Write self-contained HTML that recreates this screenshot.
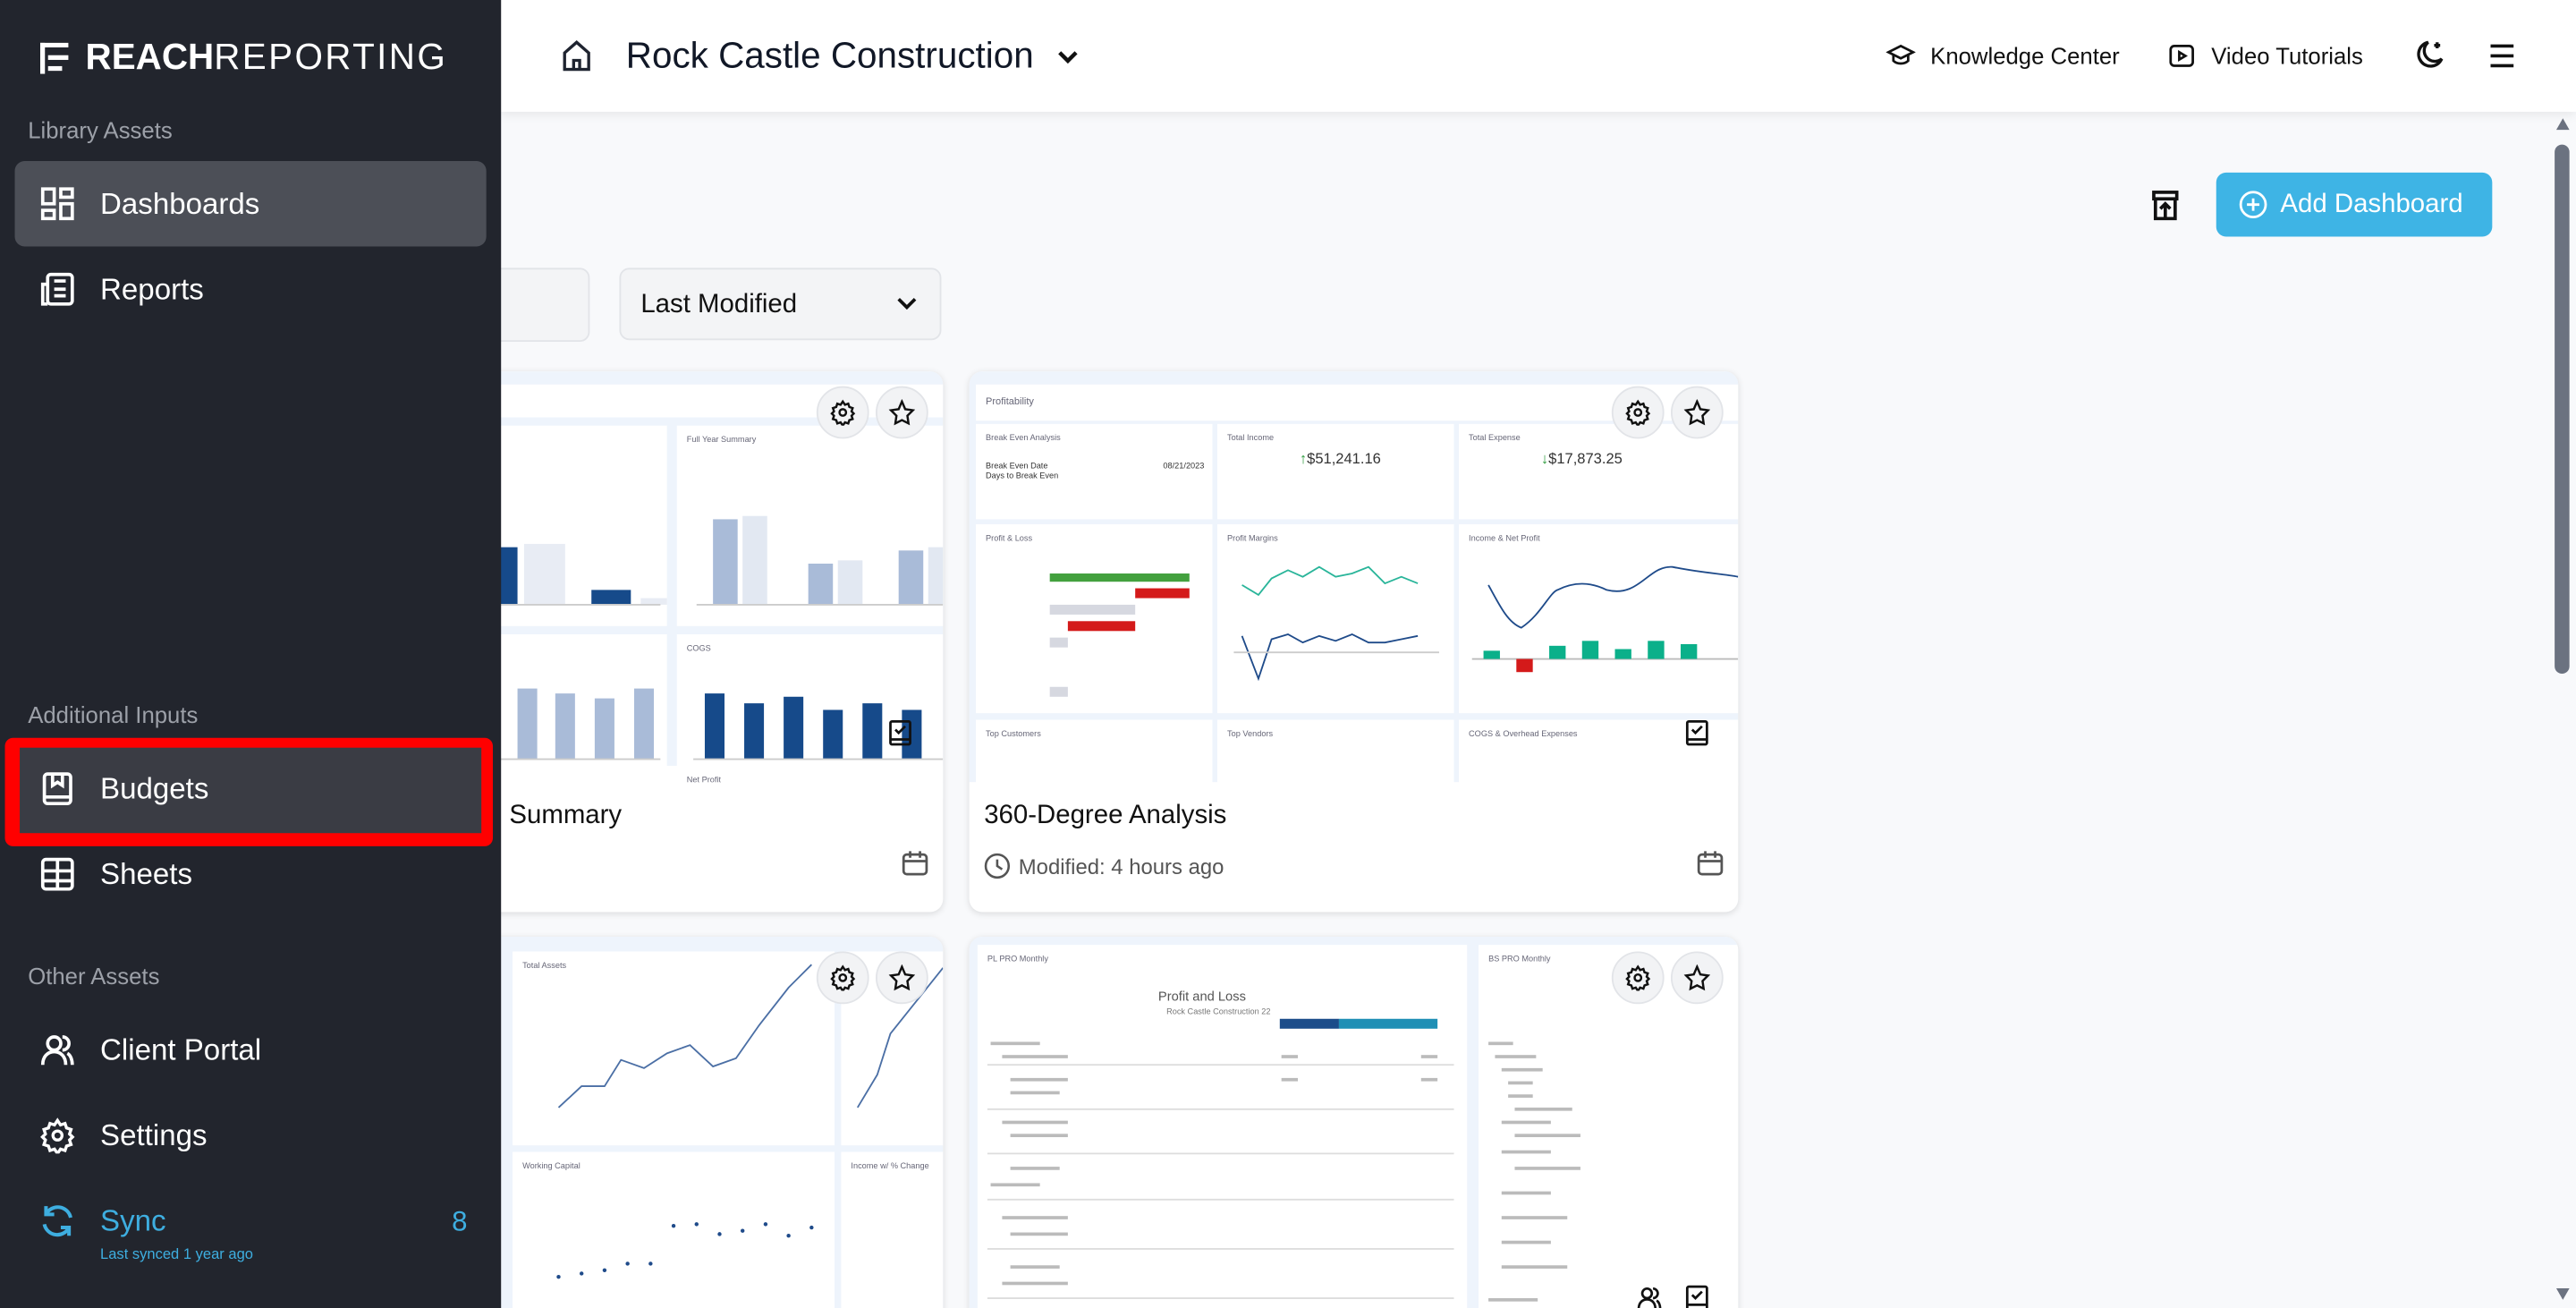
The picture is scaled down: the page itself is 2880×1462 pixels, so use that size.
<!DOCTYPE html>
<html><head><meta charset="utf-8"><style>
*{box-sizing:border-box;margin:0;padding:0}
html,body{width:2880px;height:1462px;overflow:hidden;background:#f8f9fb;font-family:"Liberation Sans",sans-serif}
#s{position:absolute;left:0;top:0;width:1568px;height:796px;overflow:hidden;transform:scale(1.836735);transform-origin:0 0;background:#f8f9fb}
.a{position:absolute}
.side{left:0;top:0;width:305px;height:796px;background:#22252d;z-index:5}
.sec{color:#9ca0a8;font-size:14px}
.item{color:#fff;font-size:18px;left:61px}
.ic{left:24px;width:22px;height:22px}
.card{background:#fff;border-radius:8px;box-shadow:0 1px 4px rgba(0,0,0,.12);overflow:hidden}
.pv{background:#eef4fc}
.pn{background:#fff}
.pt{font-size:5px;color:#667;position:absolute;left:6px;top:6px}
.btn{width:32px;height:32px;border-radius:50%;background:#f2f3f5;border:1px solid #e2e4e8}
.t{font-size:7px;color:#888}
</style></head><body><div id="s">

<!-- topbar -->
<div class="a" style="left:305px;top:0;width:1263px;height:68px;background:#fff;box-shadow:0 2px 6px rgba(0,0,0,.08);z-index:3"></div>
<svg class="a" style="left:340px;top:23px;z-index:4" width="22" height="22" viewBox="0 0 24 24" fill="none" stroke="#1f2430" stroke-width="2"><path d="M4 10l8-7 8 7v11H4z"/><path d="M10 21v-6h4v6"/></svg>
<div class="a" style="left:381px;top:21px;font-size:22px;color:#111827;z-index:4">Rock Castle Construction</div>
<svg class="a" style="left:642px;top:27px;z-index:4" width="16" height="16" viewBox="0 0 16 16" fill="none" stroke="#111" stroke-width="2.4"><path d="M3 5l5 5 5-5"/></svg>
<svg class="a" style="left:1148px;top:25px;z-index:4" width="18" height="18" viewBox="0 0 24 24" fill="none" stroke="#111" stroke-width="2"><path d="M2 9l10-5 10 5-10 5z"/><path d="M6 11v5c3 3 9 3 12 0v-5"/></svg>
<div class="a" style="left:1175px;top:26px;font-size:14px;color:#111;z-index:4">Knowledge Center</div>
<svg class="a" style="left:1319px;top:25px;z-index:4" width="18" height="18" viewBox="0 0 24 24" fill="none" stroke="#111" stroke-width="2"><rect x="3" y="4" width="18" height="16" rx="3"/><path d="M10 9l5 3-5 3z"/></svg>
<div class="a" style="left:1346px;top:26px;font-size:14px;color:#111;z-index:4">Video Tutorials</div>
<svg class="a" style="left:1467px;top:23px;z-index:4" width="22" height="22" viewBox="0 0 24 24" fill="none" stroke="#111" stroke-width="2"><path d="M12 3a8 8 0 1 0 9 11A7 7 0 0 1 12 3z"/><path d="M18 3v4M16 5h4"/></svg>
<svg class="a" style="left:1514px;top:25px;z-index:4" width="18" height="18" viewBox="0 0 18 18" stroke="#111" stroke-width="2"><path d="M2 3h14M2 9h14M2 15h14"/></svg>

<!-- scrollbar -->
<div class="a" style="left:1552px;top:68px;width:16px;height:728px;background:#f8f9fb;z-index:2"></div>
<div class="a" style="left:1556px;top:72px;width:0;height:0;border-left:4px solid transparent;border-right:4px solid transparent;border-bottom:7px solid #6b7280;z-index:2"></div>
<div class="a" style="left:1555px;top:88px;width:9px;height:322px;background:#6b7280;border-radius:5px;z-index:2"></div>
<div class="a" style="left:1556px;top:784px;width:0;height:0;border-left:4px solid transparent;border-right:4px solid transparent;border-top:7px solid #6b7280;z-index:2"></div>

<!-- toolbar -->
<svg class="a" style="left:1309px;top:115px" width="18" height="20" viewBox="0 0 18 20" fill="none" stroke="#111" stroke-width="2"><rect x="2" y="2" width="14" height="4"/><path d="M3 6v12h12V6M9 17v-8M6 12l3-3 3 3"/></svg>
<div class="a" style="left:1349px;top:105px;width:168px;height:39px;background:#3eb4e5;border-radius:6px"></div>
<svg class="a" style="left:1362px;top:115px" width="19" height="19" viewBox="0 0 20 20" fill="none" stroke="#fff" stroke-width="1.6"><circle cx="10" cy="10" r="8"/><path d="M10 6v8M6 10h8"/></svg>
<div class="a" style="left:1388px;top:116px;font-size:16px;color:#fff">Add Dashboard</div>
<div class="a" style="left:290px;top:163px;width:69px;height:45px;background:#f3f4f6;border:1px solid #e2e4e8;border-radius:6px"></div>
<div class="a" style="left:377px;top:163px;width:196px;height:44px;background:#f3f4f6;border:1px solid #e2e4e8;border-radius:6px"></div>
<div class="a" style="left:390px;top:177px;font-size:16px;color:#111">Last Modified</div>
<svg class="a" style="left:545px;top:178px" width="14" height="14" viewBox="0 0 14 14" fill="none" stroke="#111" stroke-width="2"><path d="M2 4l5 5 5-5"/></svg>

<!-- card 1 -->
<div class="a card" style="left:290px;top:226px;width:284px;height:329px">
 <div class="a pv" style="left:0;top:0;width:284px;height:250px"></div>
 <div class="a pn" style="left:0;top:8px;width:284px;height:20px"></div>
 <div class="a pn" style="left:0;top:33px;width:116px;height:122px"><svg width="116" height="122"><rect x="0" y="74" width="25" height="35" fill="#164a8a"/><rect x="29" y="72" width="25" height="37" fill="#e8ecf4"/><rect x="70" y="100" width="24" height="9" fill="#164a8a"/><rect x="100" y="105" width="24" height="4" fill="#e8ecf4"/><line x1="0" y1="109" x2="112" y2="109" stroke="#ccc"/></svg></div>
 <div class="a pn" style="left:122px;top:33px;width:162px;height:122px"><div class="pt">Full Year Summary</div><svg width="162" height="122"><g fill="#a9bbd8"><rect x="22" y="57" width="15" height="52"/><rect x="40" y="55" width="15" height="54" fill="#e2e8f2"/><rect x="80" y="84" width="15" height="25"/><rect x="98" y="82" width="15" height="27" fill="#e2e8f2"/><rect x="135" y="76" width="15" height="33"/><rect x="153" y="74" width="15" height="35" fill="#e2e8f2"/></g><line x1="12" y1="109" x2="162" y2="109" stroke="#ccc"/></svg></div>
 <div class="a pn" style="left:0;top:160px;width:116px;height:90px"><svg width="116" height="90"><g fill="#a9bbd8"><rect x="25" y="33" width="12" height="43"/><rect x="48" y="36" width="12" height="40"/><rect x="72" y="39" width="12" height="37"/><rect x="96" y="33" width="12" height="43"/></g><line x1="0" y1="76" x2="112" y2="76" stroke="#ccc"/></svg></div>
 <div class="a pn" style="left:122px;top:160px;width:162px;height:90px"><div class="pt">COGS</div><svg width="162" height="90"><g fill="#164a8a"><rect x="17" y="36" width="12" height="40"/><rect x="41" y="42" width="12" height="34"/><rect x="65" y="38" width="12" height="38"/><rect x="89" y="46" width="12" height="30"/><rect x="113" y="42" width="12" height="34"/><rect x="137" y="46" width="12" height="30"/></g><line x1="10" y1="76" x2="162" y2="76" stroke="#ccc"/></svg></div>
 <div class="a pn" style="left:0;top:240px;width:284px;height:20px"><div class="pt" style="left:128px">Net Profit</div></div>
 <div class="a" style="left:0;top:250px;width:284px;height:79px;background:#fff"></div>
 <div class="a" style="left:20px;top:262px;font-size:16px;color:#111">Summary</div>
 <div class="a btn" style="left:207px;top:9px"></div><svg class="a" style="left:215px;top:17px" width="16" height="16" viewBox="0 0 24 24" fill="none" stroke="#111" stroke-width="2"><circle cx="12" cy="12" r="3"/><path d="M12 2l2 3 3-1 1 3 3 1-1 3 2 2-2 2 1 3-3 1-1 3-3-1-2 3-2-3-3 1-1-3-3-1 1-3-2-2 2-2-1-3 3-1 1-3 3 1z"/></svg>
 <div class="a btn" style="left:243px;top:9px"></div><svg class="a" style="left:251px;top:17px" width="16" height="16" viewBox="0 0 24 24" fill="none" stroke="#111" stroke-width="2"><path d="M12 2l3 7 7 1-5 5 1 7-6-3-6 3 1-7-5-5 7-1z"/></svg>
 <svg class="a" style="left:251px;top:212px" width="14" height="16" viewBox="0 0 14 16" fill="none" stroke="#111" stroke-width="1.5"><rect x="1" y="1" width="12" height="14" rx="1"/><path d="M1 12h12M4 6l2 2 4-4"/></svg>
 <svg class="a" style="left:259px;top:291px" width="16" height="16" viewBox="0 0 16 16" fill="none" stroke="#555" stroke-width="1.5"><rect x="1" y="3" width="14" height="12" rx="2"/><path d="M1 7h14M5 1v4M11 1v4"/></svg>
</div>

<!-- card 2 -->
<div class="a card" style="left:590px;top:226px;width:468px;height:329px">
 <div class="a pv" style="left:0;top:0;width:468px;height:250px"></div>
 <div class="a pn" style="left:4px;top:8px;width:464px;height:22px"><div class="pt" style="font-size:6px;top:8px">Profitability</div></div>
 <div class="a pn" style="left:4px;top:32px;width:144px;height:58px"><div class="pt">Break Even Analysis</div><div class="a t" style="left:6px;top:23px;font-size:5px;color:#333">Break Even Date<br>Days to Break Even</div><div class="a t" style="left:114px;top:23px;font-size:5px;color:#333">08/21/2023</div></div>
 <div class="a pn" style="left:151px;top:32px;width:144px;height:58px"><div class="pt">Total Income</div><div class="a" style="left:50px;top:16px;font-size:9px;color:#333"><span style="color:#2a9a3a">↑</span>$51,241.16</div></div>
 <div class="a pn" style="left:298px;top:32px;width:170px;height:58px"><div class="pt">Total Expense</div><div class="a" style="left:50px;top:16px;font-size:9px;color:#333"><span style="color:#2a9a3a">↓</span>$17,873.25</div></div>
 <div class="a pn" style="left:4px;top:93px;width:144px;height:115px"><div class="pt">Profit &amp; Loss</div><svg width="144" height="115"><rect x="45" y="30" width="85" height="5" fill="#43a03e"/><rect x="97" y="39" width="33" height="6" fill="#d41a1a"/><rect x="45" y="49" width="52" height="6" fill="#d6d8e0"/><rect x="56" y="59" width="41" height="6" fill="#d41a1a"/><rect x="45" y="69" width="11" height="6" fill="#d6d8e0"/><rect x="45" y="99" width="11" height="6" fill="#d6d8e0"/></svg></div>
 <div class="a pn" style="left:151px;top:93px;width:144px;height:115px"><div class="pt">Profit Margins</div><svg width="144" height="115" fill="none"><path d="M15 37 L25 43 L33 33 L43 28 L52 32 L62 26 L72 32 L82 30 L92 26 L102 36 L112 32 L122 36" stroke="#2ab59a"/><path d="M15 68 L25 94 L33 70 L43 67 L52 72 L62 68 L72 71 L82 67 L92 72 L102 72 L112 70 L122 68" stroke="#1f4b8a"/><line x1="10" y1="78" x2="135" y2="78" stroke="#ccc"/></svg></div>
 <div class="a pn" style="left:298px;top:93px;width:170px;height:115px"><div class="pt">Income &amp; Net Profit</div><svg width="170" height="115" fill="none"><path d="M18 37 C25 50 30 60 38 63 C50 55 55 42 60 40 C70 35 80 35 90 40 C110 45 115 25 130 26 C150 30 160 30 170 32" stroke="#1f4b8a"/><line x1="8" y1="82" x2="170" y2="82" stroke="#bbb"/><rect x="15" y="77" width="10" height="5" fill="#0bb08a"/><rect x="35" y="82" width="10" height="8" fill="#d41a1a"/><rect x="55" y="74" width="10" height="8" fill="#0bb08a"/><rect x="75" y="71" width="10" height="11" fill="#0bb08a"/><rect x="95" y="76" width="10" height="6" fill="#0bb08a"/><rect x="115" y="71" width="10" height="11" fill="#0bb08a"/><rect x="135" y="73" width="10" height="9" fill="#0bb08a"/></svg></div>
 <div class="a pn" style="left:4px;top:212px;width:144px;height:40px"><div class="pt">Top Customers</div></div>
 <div class="a pn" style="left:151px;top:212px;width:144px;height:40px"><div class="pt">Top Vendors</div></div>
 <div class="a pn" style="left:298px;top:212px;width:170px;height:40px"><div class="pt">COGS &amp; Overhead Expenses</div></div>
 <div class="a" style="left:0;top:250px;width:468px;height:79px;background:rgba(255,255,255,.93)"></div>
 <div class="a" style="left:9px;top:262px;font-size:16px;color:#111">360-Degree Analysis</div>
 <svg class="a" style="left:9px;top:293px" width="16" height="16" viewBox="0 0 16 16" fill="none" stroke="#555" stroke-width="1.4"><circle cx="8" cy="8" r="7"/><path d="M8 4v4l3 2"/></svg>
 <div class="a" style="left:30px;top:294px;font-size:13px;color:#555">Modified: 4 hours ago</div>
 <div class="a btn" style="left:391px;top:9px"></div><svg class="a" style="left:399px;top:17px" width="16" height="16" viewBox="0 0 24 24" fill="none" stroke="#111" stroke-width="2"><circle cx="12" cy="12" r="3"/><path d="M12 2l2 3 3-1 1 3 3 1-1 3 2 2-2 2 1 3-3 1-1 3-3-1-2 3-2-3-3 1-1-3-3-1 1-3-2-2 2-2-1-3 3-1 1-3 3 1z"/></svg>
 <div class="a btn" style="left:427px;top:9px"></div><svg class="a" style="left:435px;top:17px" width="16" height="16" viewBox="0 0 24 24" fill="none" stroke="#111" stroke-width="2"><path d="M12 2l3 7 7 1-5 5 1 7-6-3-6 3 1-7-5-5 7-1z"/></svg>
 <svg class="a" style="left:436px;top:212px" width="14" height="16" viewBox="0 0 14 16" fill="none" stroke="#111" stroke-width="1.5"><rect x="1" y="1" width="12" height="14" rx="1"/><path d="M1 12h12M4 6l2 2 4-4"/></svg>
 <svg class="a" style="left:443px;top:291px" width="16" height="16" viewBox="0 0 16 16" fill="none" stroke="#555" stroke-width="1.5"><rect x="1" y="3" width="14" height="12" rx="2"/><path d="M1 7h14M5 1v4M11 1v4"/></svg>
</div>

<!-- row 2 card 1 -->
<div class="a card" style="left:290px;top:570px;width:284px;height:240px">
 <div class="a pv" style="left:0;top:0;width:284px;height:240px"></div>
 <div class="a pn" style="left:22px;top:9px;width:196px;height:118px"><div class="pt">Total Assets</div><svg width="196" height="118" fill="none"><path d="M28 95 L42 82 L56 82 L66 66 L80 71 L94 62 L108 57 L122 70 L136 65 L150 45 L168 22 L182 8" stroke="#4b6fa5"/></svg></div>
 <div class="a pn" style="left:222px;top:9px;width:62px;height:118px"><svg width="62" height="118" fill="none"><path d="M10 95 L22 75 L30 50 L62 10" stroke="#4b6fa5"/></svg></div>
 <div class="a pn" style="left:22px;top:131px;width:196px;height:110px"><div class="pt">Working Capital</div><svg width="196" height="110"><g fill="#1f4b8a"><circle cx="28" cy="76" r="1.2"/><circle cx="42" cy="74" r="1.2"/><circle cx="56" cy="72" r="1.2"/><circle cx="70" cy="68" r="1.2"/><circle cx="84" cy="68" r="1.2"/><circle cx="98" cy="45" r="1.2"/><circle cx="112" cy="44" r="1.2"/><circle cx="126" cy="50" r="1.2"/><circle cx="140" cy="48" r="1.2"/><circle cx="154" cy="44" r="1.2"/><circle cx="168" cy="51" r="1.2"/><circle cx="182" cy="46" r="1.2"/></g></svg></div>
 <div class="a pn" style="left:222px;top:131px;width:62px;height:110px"><div class="pt">Income w/ % Change</div></div>
 <div class="a btn" style="left:207px;top:9px"></div><svg class="a" style="left:215px;top:17px" width="16" height="16" viewBox="0 0 24 24" fill="none" stroke="#111" stroke-width="2"><circle cx="12" cy="12" r="3"/><path d="M12 2l2 3 3-1 1 3 3 1-1 3 2 2-2 2 1 3-3 1-1 3-3-1-2 3-2-3-3 1-1-3-3-1 1-3-2-2 2-2-1-3 3-1 1-3 3 1z"/></svg>
 <div class="a btn" style="left:243px;top:9px"></div><svg class="a" style="left:251px;top:17px" width="16" height="16" viewBox="0 0 24 24" fill="none" stroke="#111" stroke-width="2"><path d="M12 2l3 7 7 1-5 5 1 7-6-3-6 3 1-7-5-5 7-1z"/></svg>
</div>

<!-- row 2 card 2 -->
<div class="a card" style="left:590px;top:570px;width:468px;height:240px">
 <div class="a pv" style="left:0;top:0;width:468px;height:240px"></div>
 <div class="a pn" style="left:5px;top:5px;width:298px;height:240px"><div class="pt">PL PRO Monthly</div>
  <div class="a" style="left:110px;top:27px;font-size:8px;color:#555">Profit and Loss</div>
  <div class="a" style="left:115px;top:38px;font-size:5px;color:#777">Rock Castle Construction 22</div>
  <div class="a" style="left:184px;top:45px;width:36px;height:6px;background:#1c4d8a"></div><div class="a" style="left:220px;top:45px;width:60px;height:6px;background:#1f8fb5"></div>
  <svg class="a" style="left:0;top:55px" width="298" height="190"><g stroke="#ddd"><line x1="6" y1="18" x2="290" y2="18"/><line x1="6" y1="45" x2="290" y2="45"/><line x1="6" y1="72" x2="290" y2="72"/><line x1="6" y1="100" x2="290" y2="100"/><line x1="6" y1="130" x2="290" y2="130"/><line x1="6" y1="160" x2="290" y2="160"/></g><g fill="#bbb"><rect x="8" y="4" width="30" height="2"/><rect x="15" y="12" width="40" height="2"/><rect x="20" y="26" width="35" height="2"/><rect x="20" y="34" width="30" height="2"/><rect x="15" y="52" width="40" height="2"/><rect x="20" y="60" width="35" height="2"/><rect x="20" y="80" width="30" height="2"/><rect x="8" y="90" width="30" height="2"/><rect x="15" y="110" width="40" height="2"/><rect x="20" y="120" width="35" height="2"/><rect x="20" y="140" width="30" height="2"/><rect x="15" y="150" width="40" height="2"/><rect x="20" y="170" width="35" height="2"/><rect x="185" y="12" width="10" height="2"/><rect x="185" y="26" width="10" height="2"/><rect x="270" y="12" width="10" height="2"/><rect x="270" y="26" width="10" height="2"/></g></svg>
 </div>
 <div class="a pn" style="left:310px;top:5px;width:158px;height:240px"><div class="pt">BS PRO Monthly</div>
  <svg class="a" style="left:0;top:55px" width="158" height="190"><g fill="#bbb"><rect x="6" y="4" width="15" height="2"/><rect x="10" y="12" width="25" height="2"/><rect x="14" y="20" width="25" height="2"/><rect x="18" y="28" width="15" height="2"/><rect x="18" y="36" width="15" height="2"/><rect x="22" y="44" width="35" height="2"/><rect x="14" y="52" width="30" height="2"/><rect x="22" y="60" width="40" height="2"/><rect x="14" y="70" width="30" height="2"/><rect x="22" y="80" width="40" height="2"/><rect x="14" y="95" width="30" height="2"/><rect x="14" y="110" width="40" height="2"/><rect x="14" y="125" width="30" height="2"/><rect x="14" y="140" width="40" height="2"/><rect x="6" y="160" width="30" height="2"/></g></svg>
 </div>
 <div class="a btn" style="left:391px;top:9px"></div><svg class="a" style="left:399px;top:17px" width="16" height="16" viewBox="0 0 24 24" fill="none" stroke="#111" stroke-width="2"><circle cx="12" cy="12" r="3"/><path d="M12 2l2 3 3-1 1 3 3 1-1 3 2 2-2 2 1 3-3 1-1 3-3-1-2 3-2-3-3 1-1-3-3-1 1-3-2-2 2-2-1-3 3-1 1-3 3 1z"/></svg>
 <div class="a btn" style="left:427px;top:9px"></div><svg class="a" style="left:435px;top:17px" width="16" height="16" viewBox="0 0 24 24" fill="none" stroke="#111" stroke-width="2"><path d="M12 2l3 7 7 1-5 5 1 7-6-3-6 3 1-7-5-5 7-1z"/></svg>
 <svg class="a" style="left:406px;top:212px" width="16" height="16" viewBox="0 0 22 22" fill="none" stroke="#111" stroke-width="2"><circle cx="9" cy="7" r="4"/><path d="M2 20c0-5 3-8 7-8s7 3 7 8M14 3a4 4 0 0 1 0 8M17 13c2 1 3 4 3 7"/></svg>
 <svg class="a" style="left:436px;top:212px" width="14" height="16" viewBox="0 0 14 16" fill="none" stroke="#111" stroke-width="1.5"><rect x="1" y="1" width="12" height="14" rx="1"/><path d="M1 12h12M4 6l2 2 4-4"/></svg>
</div>

<!-- sidebar -->
<div class="a side">
 <svg class="a" style="left:24px;top:26px" width="20" height="19" viewBox="0 0 20 20" fill="#fff"><rect x="0" y="0" width="3" height="20"/><rect x="0" y="0" width="18" height="3"/><rect x="5" y="8" width="13" height="3"/><rect x="5" y="15" width="9" height="3"/></svg>
 <div class="a" style="left:52px;top:22px;font-size:22px;color:#fff;white-space:nowrap"><b>REACH</b><span style="letter-spacing:1.3px">REPORTING</span></div>
 <div class="a sec" style="left:17px;top:71px">Library Assets</div>
 <div class="a" style="left:9px;top:98px;width:287px;height:52px;background:#4c4f57;border-radius:6px"></div>
 <svg class="a ic" style="top:113px" viewBox="0 0 22 22" fill="none" stroke="#fff" stroke-width="2"><rect x="2" y="2" width="7" height="9"/><rect x="13" y="2" width="7" height="5"/><rect x="2" y="15" width="7" height="5"/><rect x="13" y="11" width="7" height="9"/></svg>
 <div class="a item" style="top:114px">Dashboards</div>
 <svg class="a ic" style="top:165px" viewBox="0 0 22 22" fill="none" stroke="#fff" stroke-width="2"><rect x="5" y="2" width="15" height="18" rx="2"/><path d="M5 8H2v12h3M9 6h7M9 11h7M9 15h7"/></svg>
 <div class="a item" style="top:166px">Reports</div>
 <div class="a sec" style="left:17px;top:427px">Additional Inputs</div>
 <div class="a" style="left:3px;top:449px;width:297px;height:66px;background:#f00;border-radius:5px"></div>
 <div class="a" style="left:12px;top:455px;width:281px;height:52px;background:#3a3c44"></div>
 <svg class="a ic" style="top:469px" viewBox="0 0 22 22" fill="none" stroke="#fff" stroke-width="2"><rect x="3" y="2" width="16" height="18" rx="2"/><path d="M3 16h16M8 2v7l3-2 3 2V2"/></svg>
 <div class="a item" style="top:470px">Budgets</div>
 <svg class="a ic" style="top:521px" viewBox="0 0 22 22" fill="none" stroke="#fff" stroke-width="2"><rect x="2" y="2" width="18" height="18" rx="2"/><path d="M2 9h18M2 15h18M11 2v18"/></svg>
 <div class="a item" style="top:522px">Sheets</div>
 <div class="a sec" style="left:17px;top:586px">Other Assets</div>
 <svg class="a ic" style="top:628px" viewBox="0 0 22 22" fill="none" stroke="#fff" stroke-width="2"><circle cx="9" cy="7" r="4"/><path d="M2 20c0-5 3-8 7-8s7 3 7 8M14 3a4 4 0 0 1 0 8M17 13c2 1 3 4 3 7"/></svg>
 <div class="a item" style="top:629px">Client Portal</div>
 <svg class="a ic" style="top:680px" viewBox="0 0 24 24" fill="none" stroke="#fff" stroke-width="2"><circle cx="12" cy="12" r="3"/><path d="M12 2l2 3 3-1 1 3 3 1-1 3 2 2-2 2 1 3-3 1-1 3-3-1-2 3-2-3-3 1-1-3-3-1 1-3-2-2 2-2-1-3 3-1 1-3 3 1z"/></svg>
 <div class="a item" style="top:681px">Settings</div>
 <svg class="a ic" style="top:732px" viewBox="0 0 22 22" fill="none" stroke="#3eaee0" stroke-width="2.2"><path d="M19 9A8 8 0 0 0 4 7M4 2v5h5M3 13a8 8 0 0 0 15 2M18 20v-5h-5"/></svg>
 <div class="a item" style="top:733px;color:#3eaee0">Sync</div>
 <div class="a" style="left:275px;top:734px;font-size:17px;color:#3eaee0">8</div>
 <div class="a" style="left:61px;top:758px;font-size:9px;color:#3eaee0">Last synced 1 year ago</div>
</div>
</div></body></html>
